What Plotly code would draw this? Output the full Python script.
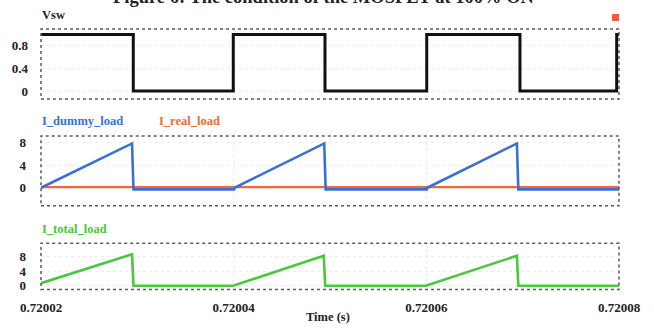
import plotly.graph_objects as go

# ---- data -------------------------------------------------------------
T0 = 0.72002  # start of the window, s

# switch-node voltage (normalised): breakpoints in microseconds after T0
vsw_time_us = [0, 9.58, 9.58, 19.96, 19.96, 29.48, 29.48, 40.04, 40.04, 49.72, 49.72, 59.76, 59.76, 60]
vsw_value = [1, 1, 0, 0, 1, 1, 0, 0, 1, 1, 0, 0, 1, 1]

# dummy-load current (A)
dummy_time_us = [0, 9.45, 9.6, 20.05, 20.1, 29.4, 29.55, 40.05, 40.1, 49.4, 49.55, 60]
dummy_value = [0, 7.8, -0.3, -0.3, 0, 7.8, -0.3, -0.3, 0, 7.8, -0.3, -0.3]

# real-load current (A)
real_time_us = [0, 60]
real_value = [0.1, 0.1]

# total load current (A)
total_time_us = [0, 9.45, 9.6, 19.95, 29.35, 29.5, 39.95, 49.4, 49.55, 60]
total_value = [0.7, 8.6, 0, 0, 8.2, 0, 0, 8.2, 0, 0]

x_ticks = [0.72002, 0.72004, 0.72006, 0.72008]
x_tick_text = ["0.72002", "0.72004", "0.72006", "0.72008"]
vsw_ticks = [0, 0.4, 0.8]
vsw_tick_text = ["0", "0.4", "0.8"]
cur_ticks = [0, 4, 8]
cur_tick_text = ["0", "4", "8"]


def to_seconds(us_list):
    return [T0 + u * 1e-6 for u in us_list]


# ---- styling ----------------------------------------------------------
W, H = 654, 328
SERIF = "Liberation Serif, Times New Roman, serif"
BLUE = "#3a6fd8"
ORANGE = "#f2683a"
GREEN = "#48c83a"

x0_px, x1_px = 41, 619
panels = [  # (top px, bottom px)
    (29, 99),
    (136, 205.7),
    (243.3, 289.5),
]


def ydom(top, bot):
    return [1 - bot / H, 1 - top / H]


xdom = [x0_px / W, x1_px / W]

fig = go.Figure()

fig.add_trace(go.Scatter(x=to_seconds(vsw_time_us), y=vsw_value, mode="lines",
                         line=dict(color="#111111", width=3), xaxis="x", yaxis="y",
                         showlegend=False))
fig.add_trace(go.Scatter(x=to_seconds(real_time_us), y=real_value, mode="lines",
                         line=dict(color=ORANGE, width=2.2), xaxis="x2", yaxis="y2",
                         showlegend=False))
fig.add_trace(go.Scatter(x=to_seconds(dummy_time_us), y=dummy_value, mode="lines",
                         line=dict(color=BLUE, width=2.6), xaxis="x2", yaxis="y2",
                         showlegend=False))
fig.add_trace(go.Scatter(x=to_seconds(total_time_us), y=total_value, mode="lines",
                         line=dict(color=GREEN, width=2.6), xaxis="x3", yaxis="y3",
                         showlegend=False))

tickfont = dict(family=SERIF, size=13, color="#222222", weight="bold")
grid = dict(showgrid=True, gridcolor="#ececec", griddash="dot", gridwidth=1)

common_x = dict(domain=xdom, range=[0.72002, 0.72008], tickvals=x_ticks,
                zeroline=False, showline=False, ticks="", **grid)

fig.update_layout(
    width=W, height=H,
    margin=dict(l=0, r=0, t=0, b=0, autoexpand=False),
    paper_bgcolor="white", plot_bgcolor="white",
    xaxis=dict(anchor="y", showticklabels=False, **common_x),
    xaxis2=dict(anchor="y2", matches="x", showticklabels=False, **common_x),
    xaxis3=dict(anchor="y3", matches="x", showticklabels=True, ticktext=x_tick_text,
                tickfont=tickfont, ticklabelstandoff=8, **common_x),
    yaxis=dict(anchor="x", domain=ydom(*panels[0]), range=[-0.141, 1.095],
               tickvals=vsw_ticks, ticktext=vsw_tick_text, tickfont=tickfont,
               zeroline=False, ticks="", ticklabelstandoff=12, **grid),
    yaxis2=dict(anchor="x2", domain=ydom(*panels[1]), range=[-3.17, 9.11],
                tickvals=cur_ticks, ticktext=cur_tick_text, tickfont=tickfont,
                zeroline=False, ticks="", ticklabelstandoff=14, **grid),
    yaxis3=dict(anchor="x3", domain=ydom(*panels[2]), range=[-1.04, 11.6],
                tickvals=cur_ticks, ticktext=cur_tick_text, tickfont=tickfont,
                zeroline=False, ticks="", ticklabelstandoff=14, **grid),
)

# dotted frames round each panel
for top, bot in panels:
    fig.add_shape(type="rect", xref="paper", yref="paper",
                  x0=xdom[0], x1=xdom[1], y0=1 - bot / H, y1=1 - top / H,
                  line=dict(color="#5a5a5a", width=1.5, dash="dot"), layer="above")

# small marker in the upper-right corner
fig.add_shape(type="rect", xref="paper", yref="paper",
              x0=612 / W, x1=619 / W, y0=1 - 21 / H, y1=1 - 14 / H,
              line=dict(width=0), fillcolor="#f05c34")


def label(text, x_px, y_px, color, size=12.5, anchor="left"):
    fig.add_annotation(text=f"<b>{text}</b>", xref="paper", yref="paper",
                       x=x_px / W, y=1 - y_px / H, xanchor=anchor, yanchor="middle",
                       showarrow=False, font=dict(family=SERIF, size=size, color=color))


label("Vsw", 40, 15, "#222222")
label("I_dummy_load", 40, 120.7, BLUE)
label("I_real_load", 157, 120.7, ORANGE)
label("I_total_load", 40, 229, GREEN)
label("Time (s)", 328, 317, "#222222", anchor="center")

# figure caption along the top edge
fig.add_annotation(text="<b>Figure 6: The condition of the MOSFET at 100% ON</b>",
                   xref="paper", yref="paper", x=324 / W, y=1 - 9 / H,
                   xanchor="center", yanchor="bottom", showarrow=False,
                   font=dict(family=SERIF, size=18.5, color="#222222"))

fig.write_html("out.html")
